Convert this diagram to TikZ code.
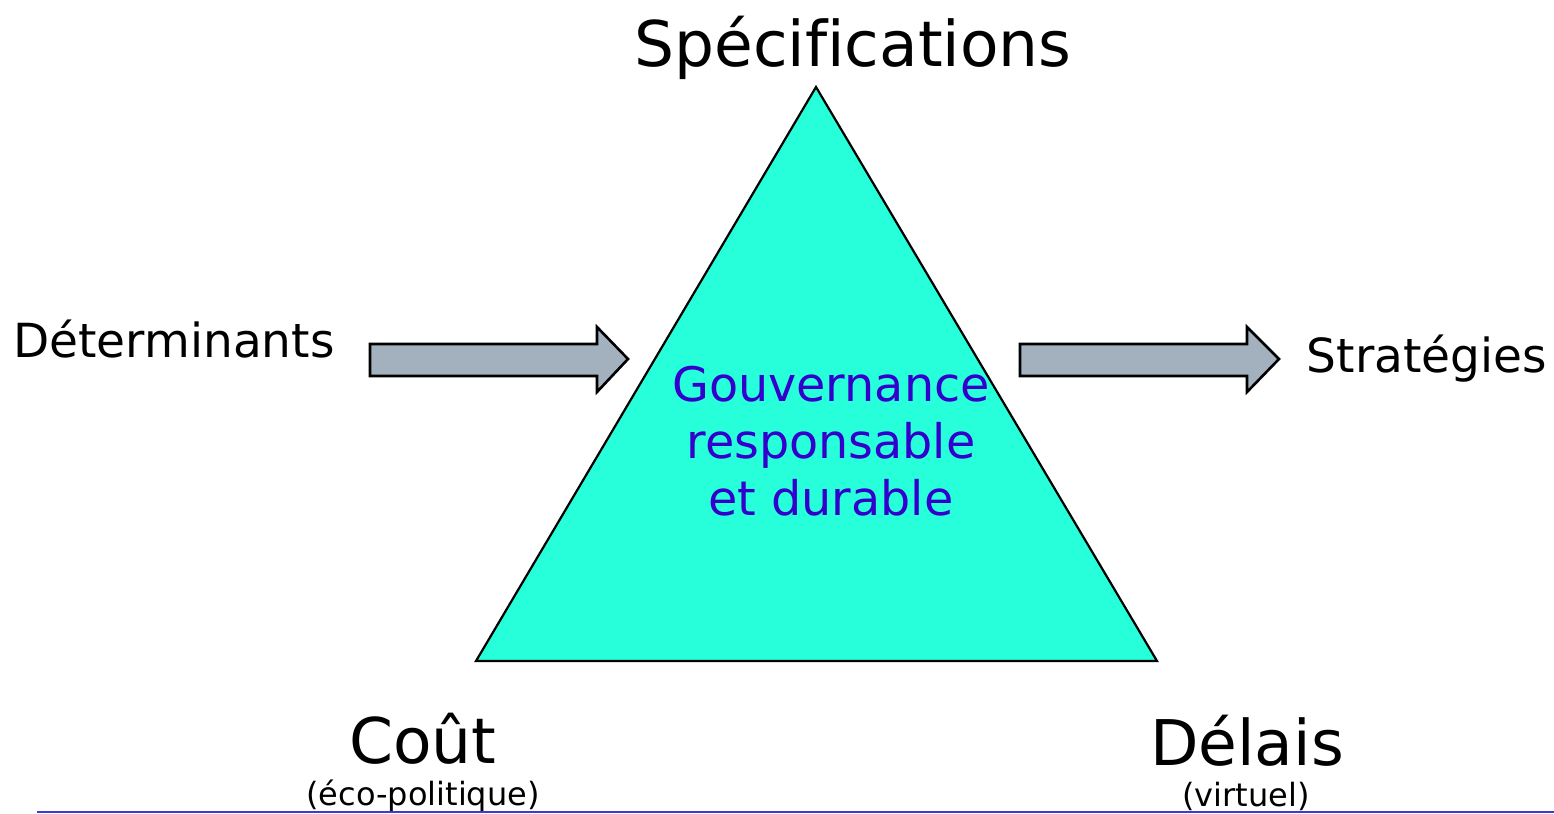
\documentclass[tikz,border=0pt]{standalone}
\usepackage{fontspec}
\setmainfont{DejaVu Sans}[Ligatures=NoCommon]
\usepackage{tikz}
\definecolor{turq}{RGB}{38,255,218}
\definecolor{govtext}{RGB}{51,0,204}
\definecolor{arrowgray}{RGB}{163,177,191}
\definecolor{rule}{RGB}{60,60,215}
\tikzstyle{big}=[font=\fontsize{31.5}{36}\selectfont, anchor=base]
\tikzstyle{mid}=[font=\fontsize{23.5}{28.5}\selectfont, anchor=base]
\tikzstyle{small}=[font=\fontsize{16}{19}\selectfont, anchor=base]
\tikzstyle{blk}=[fill=arrowgray, draw=black, line width=1.3pt, line join=miter]

\begin{document}
\begin{tikzpicture}[x=0.5pt, y=-0.5pt]
\useasboundingbox (0,0) rectangle (1554,814);

% triangle
\draw[fill=turq, line width=1.1pt, line join=miter] (816,87) -- (1157,661) -- (476,661) -- cycle;

% block arrows
\draw[blk] (370,344) -- (597,344) -- (597,327) -- (628,359) -- (597,392) -- (597,376) -- (370,376) -- cycle;
\draw[blk] (1020,344) -- (1247,344) -- (1247,327) -- (1279,359) -- (1247,392) -- (1247,376) -- (1020,376) -- cycle;

% labels
\node[big] (spec) at (853,66) {Spécifications};
\node[mid] (det) at (174,357) {Déterminants};
\node[mid] (strat) at (1427,372) {Stratégies};
\node[font=\fontsize{23.8}{28.5}\selectfont, text=govtext, align=center] (gov) at (831,441) {Gouvernance\\responsable\\et durable};
\node[big] (cout) at (423,763) {Coût};
\node[small] (eco) at (423,805) {(éco-politique)};
\node[big] (delais) at (1247,765) {Délais};
\node[small] (virt) at (1246,806) {(virtuel)};

% bottom rule
\draw[rule, line width=0.6pt] (37,812) -- (1554,812);

\end{tikzpicture}
\end{document}
